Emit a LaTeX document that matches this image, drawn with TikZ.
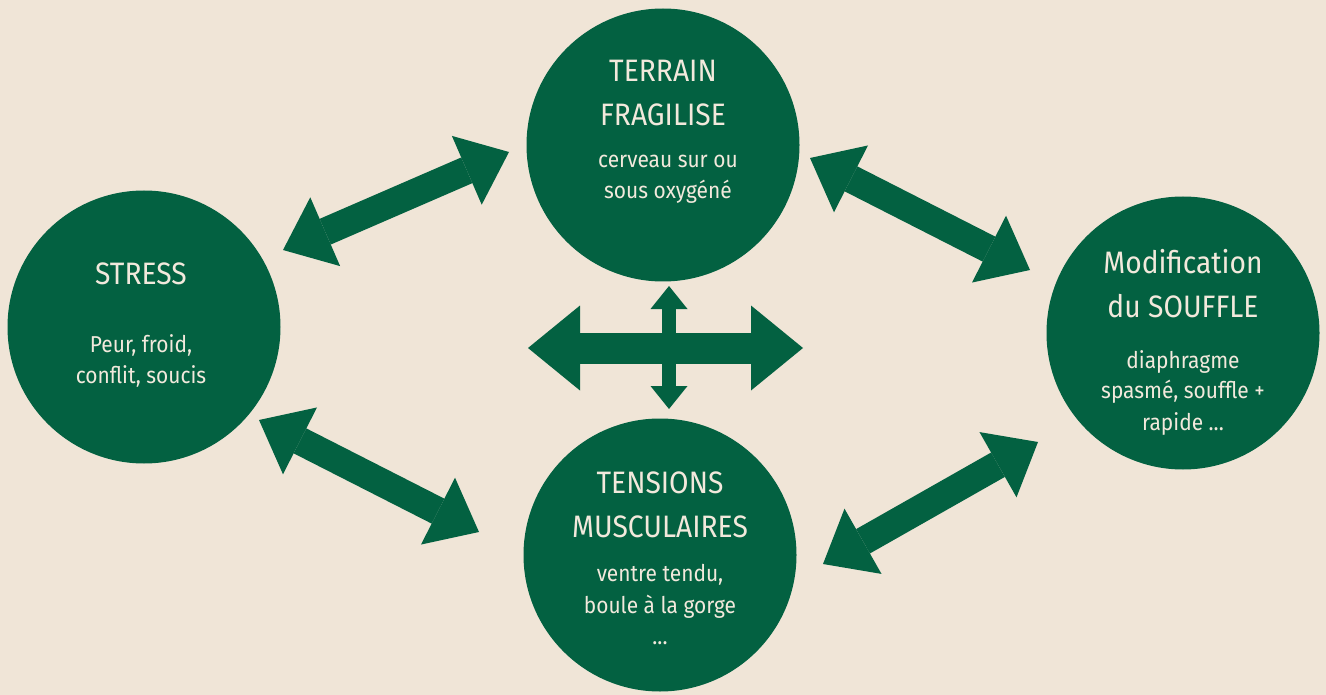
\documentclass[tikz,border=0pt]{standalone}
\usepackage{fontspec}
\setmainfont{Fira Sans}[FakeStretch=0.91]
\usetikzlibrary{arrows.meta}
\definecolor{bg}{HTML}{F0E5D7}
\definecolor{dgreen}{HTML}{036141}
\definecolor{txt}{HTML}{F2E9DC}
\tikzset{
  x=1pt, y=-1pt,
  circ/.style={circle, fill=dgreen, minimum size=273pt, inner sep=0pt},
  ttl/.style={anchor=base, text=txt, inner sep=0pt, font=\fontsize{31}{36}\selectfont},
  bdy/.style={anchor=base, text=txt, inner sep=0pt, font=\fontsize{23}{28}\selectfont},
  bigarr/.style={draw=dgreen, line width=28pt, line cap=butt,
    {Triangle[length=46pt,width=75pt,line width=0pt,fill=dgreen]}-{Triangle[length=46pt,width=75pt,line width=0pt,fill=dgreen]}},
  harr/.style={draw=dgreen, line width=31pt, line cap=butt,
    {Triangle[length=52pt,width=85pt,line width=0pt,fill=dgreen]}-{Triangle[length=52pt,width=85pt,line width=0pt,fill=dgreen]}},
  varr/.style={draw=dgreen, line width=14pt, line cap=butt,
    {Triangle[length=23pt,width=37pt,line width=0pt,fill=dgreen]}-{Triangle[length=23pt,width=37pt,line width=0pt,fill=dgreen]}},
}
\begin{document}
\begin{tikzpicture}
\fill[bg] (0,0) rectangle (1326,695);
\useasboundingbox (0,0) rectangle (1326,695);

% circles
\node[circ] (stress) at (144,327) {};
\node[circ] (terrain) at (663,145) {};
\node[circ] (tensions) at (660,555) {};
\node[circ] (souffle) at (1183,333) {};

% texts
\node[ttl] (t1) at (141,285) {STRESS};
\node[bdy] (b1a) at (141,352) {Peur, froid,};
\node[bdy] (b1b) at (141,383) {conflit, soucis};

\node[ttl] (t2a) at (663,82) {TERRAIN};
\node[ttl] (t2b) at (663,126) {FRAGILISE};
\node[bdy] (b2a) at (668,168) {cerveau sur ou};
\node[bdy] (b2b) at (668,199) {sous oxygéné};

\node[ttl] (t3a) at (660,493) {TENSIONS};
\node[ttl] (t3b) at (660,537) {MUSCULAIRES};
\node[bdy] (b3a) at (660,581) {ventre tendu,};
\node[bdy] (b3b) at (660,613) {boule à la gorge};
\node[bdy] (b3c) at (660,644) {...};

\node[ttl] (t4a) at (1183,273) {Modification};
\node[ttl] (t4b) at (1183,317) {du SOUFFLE};
\node[bdy] (b4a) at (1183,368) {diaphragme};
\node[bdy] (b4b) at (1183,398) {spasmé, souffle +};
\node[bdy] (b4c) at (1183,430) {rapide ...};

% arrow end points
\coordinate (a1s) at (283,250);
\coordinate (a1e) at (509,152);
\coordinate (a2s) at (259,420);
\coordinate (a2e) at (479,532);
\coordinate (a3s) at (810,158);
\coordinate (a3e) at (1030,270);
\coordinate (a4s) at (823,564);
\coordinate (a4e) at (1038,442);
\coordinate (hs) at (528,348);
\coordinate (he) at (803,348);
\coordinate (vs) at (669,286);
\coordinate (ve) at (669,409);

\draw[bigarr] (a1s) -- (a1e);
\draw[bigarr] (a2s) -- (a2e);
\draw[bigarr] (a3s) -- (a3e);
\draw[bigarr] (a4s) -- (a4e);
\draw[harr] (hs) -- (he);
\draw[varr] (vs) -- (ve);
\end{tikzpicture}
\end{document}
